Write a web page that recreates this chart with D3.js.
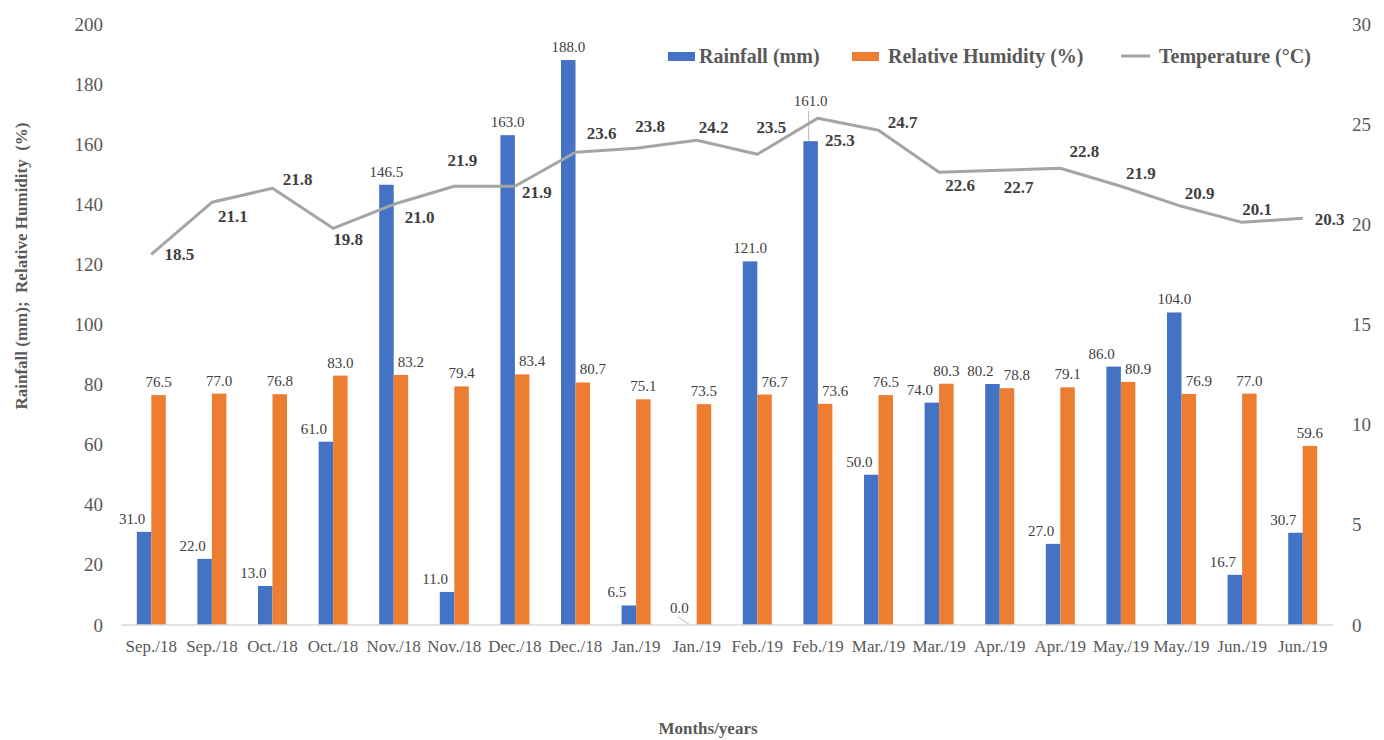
<!DOCTYPE html>
<html>
<head>
<meta charset="utf-8">
<script src="https://cdn.jsdelivr.net/npm/d3@7"></script>
<style>
  body { margin: 0; background: #fff; }
  svg { display: block; font-family: "Liberation Serif", "Times New Roman", serif; }
</style>
</head>
<body>
<div id="chart"></div>
<script>
// data
const months = ["Sep./18", "Sep./18", "Oct./18", "Oct./18", "Nov./18", "Nov./18", "Dec./18", "Dec./18",
    "Jan./19", "Jan./19", "Feb./19", "Feb./19", "Mar./19", "Mar./19", "Apr./19", "Apr./19",
    "May./19", "May./19", "Jun./19", "Jun./19"];
const rainfall = [31.0, 22.0, 13.0, 61.0, 146.5, 11.0, 163.0, 188.0, 6.5, 0.0,
    121.0, 161.0, 50.0, 74.0, 80.2, 27.0, 86.0, 104.0, 16.7, 30.7];
const humidity = [76.5, 77.0, 76.8, 83.0, 83.2, 79.4, 83.4, 80.7, 75.1, 73.5,
    76.7, 73.6, 76.5, 80.3, 78.8, 79.1, 80.9, 76.9, 77.0, 59.6];
const temperature = [18.5, 21.1, 21.8, 19.8, 21.0, 21.9, 21.9, 23.6, 23.8, 24.2,
    23.5, 25.3, 24.7, 22.6, 22.7, 22.8, 21.9, 20.9, 20.1, 20.3];
const leftTicks = [0, 20, 40, 60, 80, 100, 120, 140, 160, 180, 200];
const rightTicks = [0, 5, 10, 15, 20, 25, 30];

// where the temperature labels sit relative to their point (like the manual Excel placement)
const tempLabelShift = [[28, 0], [21, 14], [25, -9], [15, 11], [26, 13], [8, -26], [22, 6], [26, -19],
    [14, -22], [17, -13], [14, -27], [22, 22], [24, -8], [21, 13], [19, 17], [24, -17],
    [20, -13], [18, -13], [15, -13], [27, 1]];

const width = 1384, height = 740;
const margin = { left: 121, right: 1333, top: 24, bottom: 625 };

const svg = d3.select("#chart").append("svg")
    .attr("width", width)
    .attr("height", height);

const x = d3.scaleBand()
    .domain(d3.range(months.length))
    .range([margin.left, margin.right]);

const inner = d3.scaleBand()
    .domain(["rain", "hum"])
    .range([0, 29]);

const offset = (x.bandwidth() - 29) / 2;

const yLeft = d3.scaleLinear().domain([0, 200]).range([margin.bottom, margin.top]);
const yRight = d3.scaleLinear().domain([0, 30]).range([margin.bottom, margin.top]);

// left axis labels
const leftAxis = svg.append("g")
    .attr("transform", "translate(" + (margin.left - 18) + ",0)")
    .call(d3.axisLeft(yLeft).tickValues(leftTicks).tickSize(0).tickPadding(0));
leftAxis.select(".domain").remove();
leftAxis.selectAll("text")
    .style("font-family", "Liberation Serif")
    .style("font-size", "19px")
    .style("fill", "#595959");

// right axis labels
const rightAxis = svg.append("g")
    .attr("transform", "translate(" + (margin.right + 19) + ",0)")
    .call(d3.axisRight(yRight).tickValues(rightTicks).tickSize(0).tickPadding(0));
rightAxis.select(".domain").remove();
rightAxis.selectAll("text")
    .style("font-family", "Liberation Serif")
    .style("font-size", "19px")
    .style("fill", "#595959");

// bars
const groups = svg.selectAll(".month")
    .data(months.map((m, i) => i))
    .enter().append("g")
    .attr("class", "month")
    .attr("transform", i => "translate(" + (x(i) + offset) + ",0)");

groups.append("rect")
    .attr("x", inner("rain"))
    .attr("width", inner.bandwidth())
    .attr("y", i => yLeft(rainfall[i]))
    .attr("height", i => margin.bottom - yLeft(rainfall[i]))
    .style("fill", "#4472C4");

groups.append("rect")
    .attr("x", inner("hum"))
    .attr("width", inner.bandwidth())
    .attr("y", i => yLeft(humidity[i]))
    .attr("height", i => margin.bottom - yLeft(humidity[i]))
    .style("fill", "#ED7D31");

// axis line
svg.append("line")
    .attr("x1", margin.left).attr("x2", margin.right)
    .attr("y1", margin.bottom).attr("y2", margin.bottom)
    .style("stroke", "#D9D9D9")
    .style("stroke-width", 1.5);

// x tick labels
const xAxis = svg.append("g")
    .attr("transform", "translate(0," + margin.bottom + ")")
    .call(d3.axisBottom(x).tickSize(0).tickPadding(15).tickFormat(i => months[i]));
xAxis.select(".domain").remove();
xAxis.selectAll("text")
    .style("font-family", "Liberation Serif")
    .style("font-size", "17px")
    .style("fill", "#595959");

// temperature line y at the rainfall bar centre, used to keep labels off the line
const lineYAt = i => yRight(temperature[i]);

// rainfall labels
function rainLabelY(i) {
    if (rainfall[i] === 0) return yLeft(0) - 12;
    const y = yLeft(rainfall[i]) - 8;
    const ly = lineYAt(i);
    return (y - ly > -4 && y - ly < 22) ? ly - 12 : y;
}

groups.append("text")
    .attr("x", i => {
        const c = inner("rain") + inner.bandwidth() / 2;
        if (rainfall[i] === 0) return c - 10;
        return rainfall[i] < humidity[i] + 8 ? c - 12 : c;
    })
    .attr("y", rainLabelY)
    .style("text-anchor", "middle")
    .style("font-size", "15px")
    .style("fill", "#404040")
    .text(i => rainfall[i].toFixed(1));

// leader lines where a label was moved away from its bar
groups.filter(i => rainfall[i] > 0 && rainLabelY(i) < yLeft(rainfall[i]) - 20).append("line")
    .attr("x1", inner("rain") + inner.bandwidth() / 2 - 2)
    .attr("x2", inner("rain") + inner.bandwidth() / 2 - 2)
    .attr("y1", i => rainLabelY(i) + 5)
    .attr("y2", i => yLeft(rainfall[i]))
    .style("stroke", "#A5A5A5")
    .style("stroke-width", 0.8);

groups.filter(i => rainfall[i] === 0).append("line")
    .attr("x1", inner("rain") - 4).attr("y1", margin.bottom - 8)
    .attr("x2", inner("rain") + 8).attr("y2", margin.bottom)
    .style("stroke", "#A5A5A5")
    .style("stroke-width", 0.8);

// humidity labels
groups.append("text")
    .attr("x", i => {
        const c = inner("hum") + inner.bandwidth() / 2;
        return rainfall[i] > humidity[i] - 2 ? c + 10 : c;
    })
    .attr("y", i => yLeft(humidity[i]) - 8)
    .style("text-anchor", "middle")
    .style("font-size", "15px")
    .style("fill", "#404040")
    .text(i => humidity[i].toFixed(1));

// temperature line
const line = d3.line()
    .x((d, i) => x(i) + x.bandwidth() / 2)
    .y(d => yRight(d));

svg.append("path")
    .datum(temperature)
    .attr("d", line)
    .style("fill", "none")
    .style("stroke", "#A5A5A5")
    .style("stroke-width", 3)
    .style("stroke-linejoin", "round");

svg.selectAll(".temp-label")
    .data(temperature)
    .enter().append("text")
    .attr("class", "temp-label")
    .attr("x", (d, i) => x(i) + x.bandwidth() / 2 + tempLabelShift[i][0])
    .attr("y", (d, i) => yRight(d) + tempLabelShift[i][1])
    .attr("dy", ".35em")
    .style("text-anchor", "middle")
    .style("font-size", "17px")
    .style("font-weight", "bold")
    .style("fill", "#404040")
    .text(d => d.toFixed(1));

// legend
const legend = svg.append("g").attr("transform", "translate(0,56)");
legend.append("rect").attr("x", 668).attr("y", -4).attr("width", 27).attr("height", 9).style("fill", "#4472C4");
legend.append("text").attr("x", 699).attr("y", 0).attr("dy", ".35em").text("Rainfall (mm)");
legend.append("rect").attr("x", 852).attr("y", -4).attr("width", 27).attr("height", 9).style("fill", "#ED7D31");
legend.append("text").attr("x", 888).attr("y", 0).attr("dy", ".35em").text("Relative Humidity (%)");
legend.append("line").attr("x1", 1121).attr("x2", 1150).attr("y1", 0).attr("y2", 0)
    .style("stroke", "#A5A5A5").style("stroke-width", 3);
legend.append("text").attr("x", 1159).attr("y", 0).attr("dy", ".35em").text("Temperature (\u00B0C)");
legend.selectAll("text")
    .style("font-size", "20px")
    .style("font-weight", "bold")
    .style("fill", "#595959");

// axis titles
svg.append("text")
    .attr("transform", "translate(27,266) rotate(-90)")
    .style("text-anchor", "middle")
    .style("font-size", "17px")
    .style("font-weight", "bold")
    .style("fill", "#595959")
    .style("white-space", "pre")
    .text("Rainfall (mm);  Relative Humidity  (%)");

svg.append("text")
    .attr("x", 708)
    .attr("y", 734)
    .style("text-anchor", "middle")
    .style("font-size", "17px")
    .style("font-weight", "bold")
    .style("fill", "#595959")
    .text("Months/years");
</script>
</body>
</html>
